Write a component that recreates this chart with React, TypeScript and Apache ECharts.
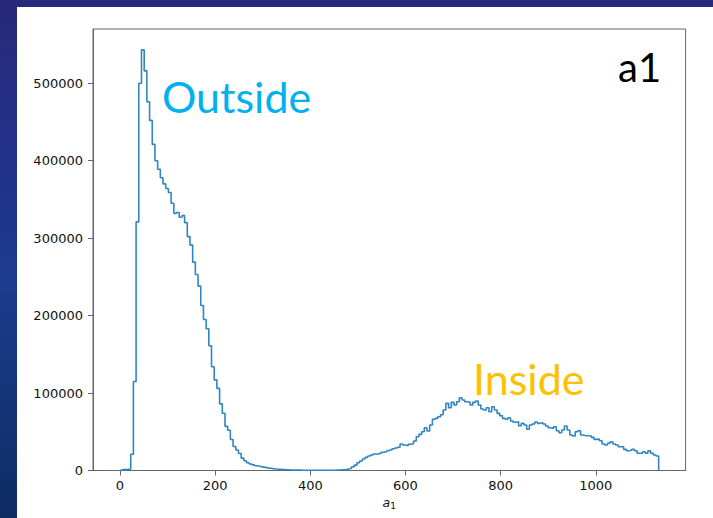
import React, { useEffect, useRef } from "react";
import * as echarts from "echarts";

// Histogram of a1: 200 equal-width bins spanning [BIN_LO, BIN_HI]
const BIN_LO = 0;
const BIN_HI = 1132;
const COUNTS = [
  800, 1200, 1500, 2000, 21000, 115000, 321000, 500000, 543000, 516000,
  476000, 452000, 421000, 400000, 389000, 378000, 370000, 364000, 359000, 345000,
  332000, 333000, 327000, 329000, 320000, 302000, 291000, 269000, 253000, 238000,
  213000, 195000, 183000, 161000, 134000, 117000, 106000, 86000, 74000, 57000,
  52000, 40000, 31000, 26500, 22000, 16000, 12600, 10100, 8400, 7200,
  6200, 5400, 4700, 4000, 3400, 2900, 2400, 2000, 1700, 1400,
  1200, 1000, 850, 700, 600, 500, 450, 400, 350, 300,
  280, 260, 250, 250, 250, 260, 280, 300, 350, 450,
  600, 750, 950, 1200, 2000, 2800, 4900, 7000, 10000, 12200,
  14800, 17000, 18700, 20000, 21300, 21500, 22200, 23500, 24300, 25500,
  26500, 28000, 29000, 30000, 34200, 32900, 32000, 33800, 34500, 38100,
  43600, 46700, 50100, 55200, 51000, 58700, 66100, 67300, 69400, 72000,
  78100, 86700, 81000, 88000, 84500, 88800, 93900, 91000, 88800, 88000,
  84500, 88000, 89700, 84500, 79400, 78100, 81000, 75900, 82300, 78100,
  73800, 70700, 67300, 66100, 68100, 63900, 62200, 63000, 57800, 60900,
  58700, 53200, 58700, 60000, 62600, 60900, 61700, 60000, 57400, 55200,
  54400, 56500, 51400, 48800, 52300, 57400, 52300, 45800, 44500, 50100,
  51400, 45800, 44900, 44900, 44500, 42800, 40200, 40500, 38500, 34200,
  32900, 35100, 37200, 34200, 33000, 30700, 30700, 27300, 25500, 26200,
  27300, 25500, 22200, 22200, 24300, 22200, 25500, 22200, 20000, 18700,
];

const X_TICKS = [0, 200, 400, 600, 800, 1000];
const Y_TICKS = [0, 100000, 200000, 300000, 400000, 500000];
const X_RANGE = [-56.6, 1188.6];
const Y_RANGE = [0, 570000];

// Outline of a step histogram: up from the baseline, across each bin, down at the end
function stepOutline(lo: number, hi: number, counts: number[]) {
  const w = (hi - lo) / counts.length;
  const pts: [number, number][] = [[lo, 0]];
  counts.forEach((c, i) => {
    pts.push([lo + i * w, c]);
    pts.push([lo + (i + 1) * w, c]);
  });
  pts.push([hi, 0]);
  return pts;
}

const TICK_FONT = { fontFamily: "DejaVu Sans, sans-serif", fontSize: 13, color: "#111" };
const AXIS_COLOR = "#666";
const plain = (v: number) => String(v);

export default function App() {
  const ref = useRef<HTMLDivElement>(null);

  useEffect(() => {
    if (!ref.current) return;
    const chart = echarts.init(ref.current, null, { renderer: "svg" });
    chart.setOption({
      animation: false,
      backgroundColor: "transparent",
      grid: {
        left: 93,
        top: 29,
        width: 592.6,
        height: 441.5,
        show: true,
        borderColor: AXIS_COLOR,
        borderWidth: 1,
        backgroundColor: "transparent",
      },
      xAxis: {
        type: "value",
        min: X_RANGE[0],
        max: X_RANGE[1],
        name: "{a|a}{s|1}",
        nameLocation: "middle",
        nameGap: 24,
        nameTextStyle: {
          rich: {
            a: { fontFamily: "DejaVu Sans, sans-serif", fontStyle: "italic", fontSize: 12.5, color: "#111", lineHeight: 16, verticalAlign: "middle" },
            s: { fontFamily: "DejaVu Sans, sans-serif", fontSize: 9, color: "#111", lineHeight: 9, verticalAlign: "bottom" },
          },
        },
        axisLine: { show: true, onZero: false, lineStyle: { color: AXIS_COLOR, width: 1 } },
        axisTick: { show: true, length: 5, customValues: X_TICKS, lineStyle: { color: AXIS_COLOR } },
        axisLabel: { ...TICK_FONT, margin: 8, customValues: X_TICKS, formatter: plain },
        splitLine: { show: false },
      },
      yAxis: {
        type: "value",
        min: Y_RANGE[0],
        max: Y_RANGE[1],
        axisLine: { show: true, onZero: false, lineStyle: { color: AXIS_COLOR, width: 1 } },
        axisTick: { show: true, length: 5, customValues: Y_TICKS, lineStyle: { color: AXIS_COLOR } },
        axisLabel: { ...TICK_FONT, margin: 10, customValues: Y_TICKS, formatter: plain },
        splitLine: { show: false },
      },
      series: [
        {
          type: "line",
          data: stepOutline(BIN_LO, BIN_HI, COUNTS),
          showSymbol: false,
          symbol: "none",
          lineStyle: { color: "#3186c2", width: 1.6 },
          clip: true,
        },
      ],
      graphic: [
        {
          type: "text",
          x: 162,
          y: 96,
          style: { text: "Outside", fill: "#00b0f0", font: "43px Lato", textVerticalAlign: "middle" },
        },
        {
          type: "text",
          x: 473,
          y: 378,
          style: { text: "Inside", fill: "#ffc000", font: "43px Lato", textVerticalAlign: "middle" },
        },
        {
          type: "text",
          x: 618,
          y: 67,
          style: { text: "a1", fill: "#000", font: "40px Lato", textVerticalAlign: "middle" },
        },
      ],
    });
    return () => chart.dispose();
  }, []);

  return (
    <div
      style={{
        position: "fixed",
        left: 0,
        top: 0,
        width: 713,
        height: 518,
        overflow: "hidden",
        background: "linear-gradient(180deg, #27297a 0%, #20338a 35%, #1c3c8c 55%, #14357a 75%, #0e2c62 100%)",
      }}
    >
      <div style={{ position: "absolute", left: 17, top: 7, right: 0, bottom: 0, background: "#fff" }} />
      <div ref={ref} style={{ position: "absolute", left: 0, top: 0, width: 713, height: 518 }} />
    </div>
  );
}
